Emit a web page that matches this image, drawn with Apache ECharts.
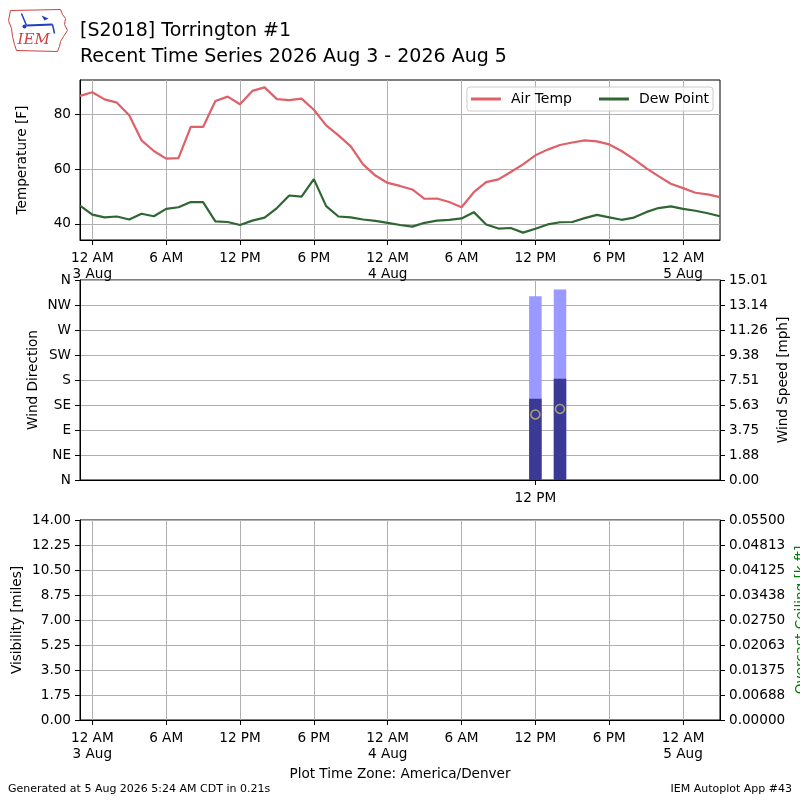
<!DOCTYPE html>
<html>
<head>
<meta charset="utf-8">
<title>[S2018] Torrington #1</title>
<script src="https://cdn.jsdelivr.net/npm/echarts@6/dist/echarts.min.js"></script>
<style>
  html, body { margin: 0; padding: 0; background: #fff; }
  #chart { width: 800px; height: 800px; }
</style>
</head>
<body>
<div id="chart"></div>
<script>
// hours relative to 3 Aug 2026 00:00 (America/Denver)
const hours = [-1, 0, 1, 2, 3, 4, 5, 6, 7, 8, 9, 10, 11, 12, 13, 14, 15, 16, 17, 18,
  19, 20, 21, 22, 23, 24, 25, 26, 27, 28, 29, 30, 31, 32, 33, 34, 35, 36, 37, 38,
  39, 40, 41, 42, 43, 44, 45, 46, 47, 48, 49, 50, 51];
const airTemp = [86.9, 88.2, 85.6, 84.4, 79.8, 70.6, 66.7, 63.9, 64.1, 75.5, 75.5, 85.0, 86.6, 83.8,
  88.7, 90.0, 85.7, 85.3, 85.9, 81.8, 76.1, 72.4, 68.4, 61.8, 57.7, 55.0, 53.9, 52.6, 49.2, 49.3,
  48.0, 46.1, 51.6, 55.3, 56.3, 59.0, 61.8, 65.1, 67.2, 68.9, 69.8, 70.6, 70.2, 69.1, 66.7, 63.7,
  60.4, 57.5, 54.7, 53.1, 51.4, 50.8, 49.8];
const dewPoint = [46.7, 43.4, 42.4, 42.7, 41.6, 43.7, 42.8, 45.5, 46.1, 48.0, 48.0, 40.9, 40.7, 39.6,
  41.2, 42.3, 45.8, 50.4, 50.0, 56.4, 46.5, 42.7, 42.4, 41.6, 41.1, 40.4, 39.6, 39.0, 40.4, 41.2,
  41.5, 42.0, 44.3, 39.8, 38.3, 38.5, 36.8, 38.2, 39.8, 40.6, 40.7, 42.1, 43.3, 42.4, 41.5, 42.3,
  44.3, 45.8, 46.4, 45.5, 44.8, 43.9, 42.8];

const windHours = [36, 38];
const windSpeed = [6.1, 7.6];
const windGust = [13.8, 14.3];
const windDir = [118, 128];

const timeTicks = [0, 6, 12, 18, 24, 30, 36, 42, 48];
const windTimeTicks = [36];
const tempTicks = [40, 60, 80];
const dirLabels = ['N', 'NE', 'E', 'SE', 'S', 'SW', 'W', 'NW', 'N'];

const FONT = 'DejaVu Sans';
const FS = 13.6;
const GRID_COLOR = '#b0b0b0';

const fmtHour = (h) => {
  const hh = ((h % 24) + 24) % 24;
  const day = 3 + Math.floor(h / 24);
  if (hh === 0) return '12 AM\n' + day + ' Aug';
  if (hh === 6) return '6 AM';
  if (hh === 12) return '12 PM';
  if (hh === 18) return '6 PM';
  return '';
};

const pair = (xs, ys) => xs.map((x, i) => [x, ys[i]]);

const xAxisBase = (gridIndex, ticks) => ({
  type: 'value', gridIndex: gridIndex, min: -1, max: 51,
  nameMoveOverlap: false,
  axisLine: { show: true, onZero: false, lineStyle: { color: '#000', width: 1 } },
  axisTick: { show: true, customValues: ticks, length: 5, lineStyle: { color: '#000' } },
  axisLabel: { customValues: ticks, formatter: fmtHour, color: '#000', fontSize: FS,
    fontFamily: FONT, margin: 10, lineHeight: 16.5 },
  splitLine: { show: true, lineStyle: { color: GRID_COLOR, width: 1 } }
});

const yAxisBase = (gridIndex, position, extra) => Object.assign({
  type: 'value', gridIndex: gridIndex, position: position,
  nameLocation: 'middle', nameRotate: 90, nameMoveOverlap: false,
  nameTextStyle: { fontSize: FS, color: '#000', fontFamily: FONT },
  axisLine: { show: true, onZero: false, lineStyle: { color: '#000', width: 1 } },
  axisTick: { show: true, length: 5, lineStyle: { color: '#000' } },
  axisLabel: { color: '#000', fontSize: FS, fontFamily: FONT, margin: 9 },
  splitLine: { show: false }
}, extra);

const chart = echarts.init(document.getElementById('chart'), null, { renderer: 'canvas' });

const option = {
  animation: false,
  backgroundColor: '#fff',
  textStyle: { fontFamily: FONT },
  title: {
    text: '[S2018] Torrington #1\nRecent Time Series 2026 Aug 3 - 2026 Aug 5',
    left: 80, top: 18, padding: 0,
    textStyle: { fontSize: 19, fontWeight: 'normal', color: '#000', fontFamily: FONT, lineHeight: 26 }
  },
  legend: {
    data: ['Air Temp', 'Dew Point'],
    right: 87, top: 87,
    icon: 'rect', itemWidth: 30, itemHeight: 3, itemGap: 27,
    padding: [5, 4, 5, 4],
    borderColor: '#cccccc', borderWidth: 1, borderRadius: 3,
    backgroundColor: 'rgba(255,255,255,0.8)',
    textStyle: { fontSize: 14, color: '#000', fontFamily: FONT, padding: [2, 0, 0, 5] }
  },
  grid: [
    { left: 80, right: 80, top: 80, height: 160, show: true, borderColor: '#000', borderWidth: 1,
      containLabel: false, outerBoundsMode: 'none' },
    { left: 80, right: 80, top: 280, height: 200, show: true, borderColor: '#000', borderWidth: 1,
      containLabel: false, outerBoundsMode: 'none' },
    { left: 80, right: 80, top: 520, height: 200, show: true, borderColor: '#000', borderWidth: 1,
      containLabel: false, outerBoundsMode: 'none' }
  ],
  xAxis: [
    xAxisBase(0, timeTicks),
    xAxisBase(1, windTimeTicks),
    Object.assign(xAxisBase(2, timeTicks), {
      name: 'Plot Time Zone: America/Denver', nameLocation: 'middle', nameGap: 47,
      nameTextStyle: { fontSize: FS, color: '#000', fontFamily: FONT }
    })
  ],
  yAxis: [
    yAxisBase(0, 'left', {
      min: 34.1, max: 92.7, name: 'Temperature [F]', nameGap: 51,
      axisTick: { show: true, length: 5, customValues: tempTicks, lineStyle: { color: '#000' } },
      axisLabel: { customValues: tempTicks, color: '#000', fontSize: FS, fontFamily: FONT, margin: 9 },
      splitLine: { show: true, lineStyle: { color: GRID_COLOR, width: 1 } }
    }),
    yAxisBase(1, 'left', {
      min: 0, max: 360, interval: 45, name: 'Wind Direction', nameGap: 40,
      axisLabel: { color: '#000', fontSize: FS, fontFamily: FONT, margin: 9,
        formatter: (v) => dirLabels[Math.round(v / 45)] },
      splitLine: { show: true, lineStyle: { color: GRID_COLOR, width: 1 } }
    }),
    yAxisBase(1, 'right', {
      min: 0, max: 15.013, interval: 15.013 / 8, name: 'Wind Speed [mph]', nameGap: 56,
      axisLabel: { color: '#000', fontSize: FS, fontFamily: FONT, margin: 9,
        formatter: (v) => (v + 1e-9).toFixed(2) }
    }),
    yAxisBase(2, 'left', {
      min: 0, max: 14, interval: 1.75, name: 'Visibility [miles]', nameGap: 56,
      axisLabel: { color: '#000', fontSize: FS, fontFamily: FONT, margin: 9,
        formatter: (v) => (v + 1e-9).toFixed(2) },
      splitLine: { show: true, lineStyle: { color: GRID_COLOR, width: 1 } }
    }),
    yAxisBase(2, 'right', {
      min: 0, max: 0.055, interval: 0.055 / 8, name: 'Overcast Ceiling [k ft]', nameGap: 74,
      nameTextStyle: { fontSize: FS, color: '#008000', fontFamily: FONT },
      axisLabel: { color: '#000', fontSize: FS, fontFamily: FONT, margin: 9,
        formatter: (v) => (v + 1e-11).toFixed(5) }
    })
  ],
  series: [
    {
      name: 'Air Temp', type: 'line', xAxisIndex: 0, yAxisIndex: 0,
      data: pair(hours, airTemp), symbol: 'none', z: 3,
      lineStyle: { color: '#de6068', width: 2.2 }, itemStyle: { color: '#de6068' }
    },
    {
      name: 'Dew Point', type: 'line', xAxisIndex: 0, yAxisIndex: 0,
      data: pair(hours, dewPoint), symbol: 'none', z: 3,
      lineStyle: { color: '#2f6632', width: 2.2 }, itemStyle: { color: '#2f6632' }
    },
    {
      name: 'Gust', type: 'bar', xAxisIndex: 1, yAxisIndex: 2,
      data: pair(windHours, windGust), barWidth: 12.5, barGap: '-100%', z: 2,
      itemStyle: { color: '#9999ff' }
    },
    {
      name: 'Speed', type: 'bar', xAxisIndex: 1, yAxisIndex: 2,
      data: pair(windHours, windSpeed), barWidth: 12.5, barGap: '-100%', z: 3,
      itemStyle: { color: '#3a3a96' }
    },
    {
      name: 'Direction', type: 'scatter', xAxisIndex: 1, yAxisIndex: 1,
      data: pair(windHours, windDir), symbol: 'circle', symbolSize: 9, z: 5,
      itemStyle: { color: 'rgba(0,0,0,0)', borderColor: '#c2bc6a', borderWidth: 1.5 }
    }
  ],
  graphic: [
    // simplified IEM logo
    {
      type: 'group', left: 6, top: 7,
      children: [
        { type: 'polyline', shape: { points: [[2, 2], [52, 1], [54, 6], [57, 10], [56, 16], [59, 22],
          [55, 28], [52, 33], [51, 38], [49, 43], [8, 42], [6, 36], [4, 28], [3, 20], [0, 12], [2, 2]] },
          style: { stroke: '#d04040', lineWidth: 1, fill: null } },
        { type: 'line', shape: { x1: 18, y1: 17, x2: 44, y2: 16 }, style: { stroke: '#1f3fbf', lineWidth: 2 } },
        { type: 'line', shape: { x1: 13, y1: 5, x2: 18, y2: 17 }, style: { stroke: '#1f3fbf', lineWidth: 1.5 } },
        { type: 'polygon', shape: { points: [[33, 7], [40, 10], [36, 12]] }, style: { fill: '#1f3fbf' } },
        { type: 'line', shape: { x1: 44, y1: 16, x2: 46, y2: 25 }, style: { stroke: '#1f3fbf', lineWidth: 1.5 } },
        { type: 'circle', shape: { cx: 16, cy: 18, r: 2 }, style: { fill: '#1f3fbf' } },
        { type: 'text', left: 9, top: 24, style: { text: 'IEM', fill: '#d04040',
          font: 'italic 15px "DejaVu Serif", serif' } }
      ]
    },
    {
      type: 'text', left: 8, top: 784,
      style: { text: 'Generated at 5 Aug 2026 5:24 AM CDT in 0.21s', fill: '#000', font: '11px "DejaVu Sans"' }
    },
    {
      type: 'text', right: 8, top: 784,
      style: { text: 'IEM Autoplot App #43', fill: '#000', font: '11px "DejaVu Sans"' }
    }
  ]
};

chart.setOption(option);
window.addEventListener('resize', () => chart.resize());
</script>
</body>
</html>
